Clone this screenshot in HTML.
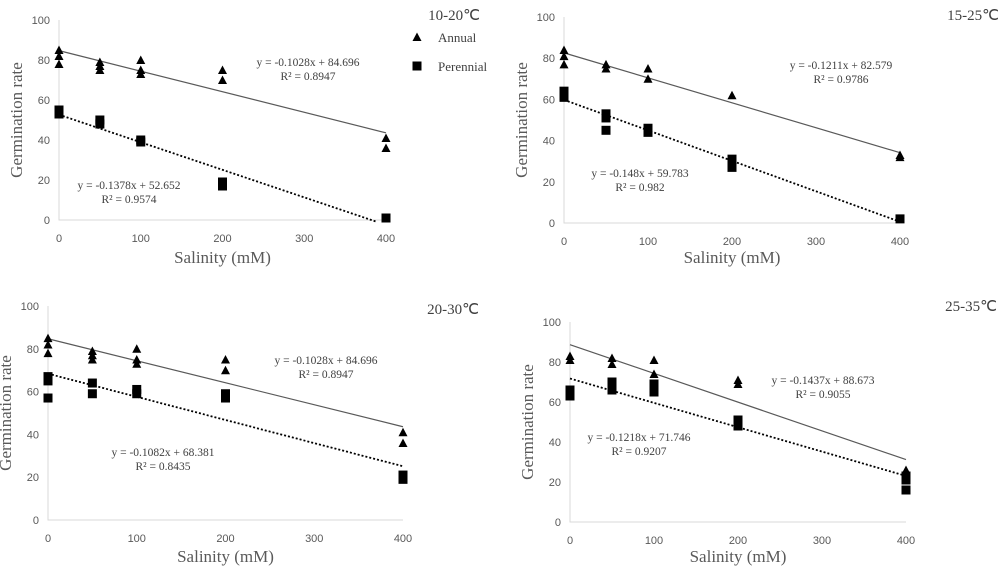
<!DOCTYPE html>
<html><head><meta charset="utf-8">
<style>
html,body{margin:0;padding:0;background:#fff;}
svg{display:block;}
.tick{font-family:"Liberation Sans",sans-serif;font-size:11px;fill:#595959;}
.ttl{font-family:"Liberation Serif",serif;font-size:17px;fill:#595959;}
.eq{font-family:"Liberation Serif",serif;font-size:11.5px;fill:#404040;}
.pt{font-family:"Liberation Serif",serif;font-size:15px;fill:#404040;}
.leg{font-family:"Liberation Serif",serif;font-size:13px;fill:#404040;}
</style></head>
<body>
<svg id="chart" width="1000" height="566" viewBox="0 0 1000 566" xmlns="http://www.w3.org/2000/svg"></svg>
<script>
const xTicks=[0,100,200,300,400];
const yTicks=[0,20,40,60,80,100];
const panelTitles=["10-20℃","15-25℃","20-30℃","25-35℃"];
const salinity=[0,50,100,200,400];
const annual1=[[85,82,78],[79,77,75],[80,75,73],[75,70],[41,36]];
const perennial1=[[55,53],[50,48],[40,39],[19,17],[1]];
const annual2=[[84,81,77],[77,75],[75,70],[62],[33,32]];
const perennial2=[[64,61],[53,51,45],[46,44],[31,29,27],[2]];
const annual3=[[85,82,78],[79,77,75],[80,75,73],[75,70],[41,36]];
const perennial3=[[67,65,57],[64,59],[61,59],[59,57],[21,19]];
const annual4=[[83,81],[82,79],[81,74],[71,69],[26,24]];
const perennial4=[[66,63],[70,66],[69,65],[51,48],[23,21,16]];
const annualSlope=[-0.1028,-0.1211,-0.1028,-0.1437];
const annualIntercept=[84.696,82.579,84.696,88.673];
const perennialSlope=[-0.1378,-0.148,-0.1082,-0.1218];
const perennialIntercept=[52.652,59.783,68.381,71.746];
const annualEq=["y = -0.1028x + 84.696","y = -0.1211x + 82.579","y = -0.1028x + 84.696","y = -0.1437x + 88.673"];
const annualR2=["R² = 0.8947","R² = 0.9786","R² = 0.8947","R² = 0.9055"];
const perennialEq=["y = -0.1378x + 52.652","y = -0.148x + 59.783","y = -0.1082x + 68.381","y = -0.1218x + 71.746"];
const perennialR2=["R² = 0.9574","R² = 0.982","R² = 0.8435","R² = 0.9207"];

const annualAll=[annual1,annual2,annual3,annual4];
const perennialAll=[perennial1,perennial2,perennial3,perennial4];
// layout (not data)
const L=[
 {x0:59,x1:386,yT:20,yB:220,title:[480,20],aeq:[308,62],peq:[129,185],xt:43},
 {x0:564,x1:900,yT:17,yB:223,title:[999,20],aeq:[841,65],peq:[640,173],xt:40},
 {x0:48,x1:403,yT:306,yB:520,title:[479,314],aeq:[326,360],peq:[163,452],xt:42},
 {x0:570,x1:906,yT:322,yB:522,title:[997,311],aeq:[823,380],peq:[639,437],xt:40}
];
const NS="http://www.w3.org/2000/svg";
const svg=document.getElementById('chart');
function mk(tag,attrs,parent){const e=document.createElementNS(NS,tag);for(const k in attrs)e.setAttribute(k,attrs[k]);(parent||svg).appendChild(e);return e;}
function txt(s,x,y,cls,anchor,parent){const t=mk('text',{x:x,y:y,class:cls,'text-anchor':anchor||'middle'},parent);t.textContent=s;return t;}

L.forEach((p,i)=>{
 const g=mk('g',{});
 
 
 const sx=v=>p.x0+(v/400)*(p.x1-p.x0);
 const sy=v=>p.yB-(v/100)*(p.yB-p.yT);
 const ax=mk('path',{d:`M${p.x0},${p.yT}V${p.yB}H${p.x1}`,fill:'none',stroke:'#d9d9d9','stroke-width':1},g);
 
 
 yTicks.forEach(v=>{const t=txt(String(v),p.x0-9,sy(v)+4,'tick','end',g);
  
  });
 xTicks.forEach(v=>{const t=txt(String(v),sx(v),p.yB+22,'tick','middle',g);
  
  });
 const yt=txt('Germination rate',0,0,'ttl','middle',g);
 yt.setAttribute('transform',`translate(${p.x0-37},${(p.yT+p.yB)/2}) rotate(-90)`);
 
 
 const xt=txt('Salinity (mM)',(p.x0+p.x1)/2,p.yB+p.xt,'ttl','middle',g);
 
 
 const tt=txt(panelTitles[i],p.title[0],p.title[1],'pt','end',g);
 
 
 // trendlines
 const al=mk('line',{x1:sx(0),y1:sy(annualIntercept[i]),x2:sx(400),y2:sy(annualIntercept[i]+annualSlope[i]*400),stroke:'#595959','stroke-width':1.2},g);
 
 
 let pe=perennialIntercept[i]+perennialSlope[i]*400, xe=400;
 if(pe<-1){xe=(-1-perennialIntercept[i])/perennialSlope[i];pe=-1;}
 const pl=mk('line',{x1:sx(0),y1:sy(perennialIntercept[i]),x2:sx(xe),y2:sy(pe),stroke:'#000','stroke-width':1.8,'stroke-dasharray':'2,2'},g);
 
 
 // points
 annualAll[i].forEach((arr,k)=>arr.forEach(v=>{const X=sx(salinity[k]),Y=sy(v);
  const m=mk('polygon',{points:`${X-4.5},${Y+4} ${X+4.5},${Y+4} ${X},${Y-4.5}`,fill:'#000'},g);
  
  }));
 perennialAll[i].forEach((arr,k)=>arr.forEach(v=>{const X=sx(salinity[k]),Y=sy(v);
  const m=mk('rect',{x:X-4.5,y:Y-4.5,width:9,height:9,fill:'#000'},g);
  
  }));
 // equations
 [[annualEq[i],annualR2[i],p.aeq,'annual'],[perennialEq[i],perennialR2[i],p.peq,'perennial']].forEach(e=>{
  const a=txt(e[0],e[2][0],e[2][1]+4,'eq','middle',g);
  
  
  const b=txt(e[1],e[2][0],e[2][1]+18,'eq','middle',g);
  
  
 });
});
// legend
const lg=mk('g',{});


const lt=mk('polygon',{points:'412.5,41 421.5,41 417,32.5',fill:'#000'},lg);


const l1=txt('Annual',438,42,'leg','start',lg);


const ls=mk('rect',{x:412.5,y:61.5,width:9,height:9,fill:'#000'},lg);


const l2=txt('Perennial',438,71,'leg','start',lg);


</script>
</body></html>
